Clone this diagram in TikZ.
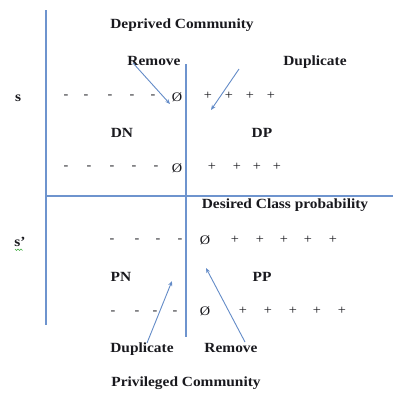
\documentclass[tikz,border=0pt]{standalone}
\usepackage{fontspec}
\setmainfont{Liberation Serif}[FakeStretch=1.1]
\usetikzlibrary{arrows.meta}
\definecolor{lineblue}{RGB}{110,148,206}
\definecolor{arrblue}{RGB}{100,140,200}
\definecolor{txt}{RGB}{25,25,30}
\definecolor{spellgreen}{RGB}{60,170,60}
\tikzset{
  ln/.style={draw=lineblue, line width=1.2pt},
  arr/.style={draw=arrblue, line width=0.9pt, -{Stealth[length=5pt,width=4pt]}},
  lbl/.style={font=\fontsize{14}{16}\selectfont\bfseries, text=txt, anchor=base, inner sep=0pt},
  sym/.style={font=\fontsize{13}{15}\selectfont, text=txt, anchor=center, inner sep=0pt},
}
\begin{document}
\begin{tikzpicture}[x=1pt,y=-1pt]
\useasboundingbox[fill=white] (0,0) rectangle (394,392);
% axes
\coordinate (vlT) at (46,10);  \coordinate (vlB) at (46,325);
\coordinate (vmT) at (186,64); \coordinate (vmB) at (186,337);
\coordinate (hL) at (46,196);  \coordinate (hR) at (393,196);
\draw[ln] (vlT) -- (vlB);
\draw[ln] (vmT) -- (vmB);
\draw[ln] (hL) -- (hR);
% labels
\node[lbl] (dc) at (182,28) {Deprived Community};
\node[lbl] (rmT) at (154,65) {Remove};
\node[lbl] (dupT) at (315,65) {Duplicate};
\node[lbl] (dn) at (122,137) {DN};
\node[lbl] (dp) at (262,137) {DP};
\node[lbl] (dcp) at (285,208) {Desired Class probability};
\node[lbl] (pn) at (121,281) {PN};
\node[lbl] (pp) at (262,281) {PP};
\node[lbl] (dupB) at (142,352) {Duplicate};
\node[lbl] (rmB) at (231,352) {Remove};
\node[lbl] (pc) at (186,386) {Privileged Community};
\node[lbl] (s1) at (18,101) {s};
\node[lbl] (s2) at (20,246) {s’};
\draw[spellgreen, line width=0.6pt] (15,249) -- (16.5,250.5) -- (18,249) -- (19.5,250.5) -- (21,249) -- (22.5,250.5);
% row 1
\foreach \x [count=\i] in {66,86,110,132,153} \node[sym] (ra\i) at (\x,97) {-};
\node[sym] (oa) at (177,97) {Ø};
\foreach \x [count=\i] in {208,229,250,271} \node[sym] (pa\i) at (\x,96) {+};
% row 2
\foreach \x [count=\i] in {66,89,112,134,156} \node[sym] (rb\i) at (\x,168) {-};
\node[sym] (ob) at (177,168) {Ø};
\foreach \x [count=\i] in {212,237,257,277} \node[sym] (pb\i) at (\x,167) {+};
% row 3
\foreach \x [count=\i] in {112,137,158,180} \node[sym] (rc\i) at (\x,241) {-};
\node[sym] (oc) at (205,240) {Ø};
\foreach \x [count=\i] in {235,260,284,308,333} \node[sym] (pc\i) at (\x,240) {+};
% row 4
\foreach \x [count=\i] in {113,137,155,175} \node[sym] (rd\i) at (\x,313) {-};
\node[sym] (od) at (205,311) {Ø};
\foreach \x [count=\i] in {243,268,293,317,342} \node[sym] (pd\i) at (\x,311) {+};
% arrows
\coordinate (a1s) at (133,63);  \coordinate (a1e) at (170,104);
\coordinate (a2s) at (239,69);  \coordinate (a2e) at (211,110);
\coordinate (a3s) at (147,343); \coordinate (a3e) at (172,281);
\coordinate (a4s) at (245,342); \coordinate (a4e) at (206,268);
\draw[arr] (a1s) -- (a1e);
\draw[arr] (a2s) -- (a2e);
\draw[arr] (a3s) -- (a3e);
\draw[arr] (a4s) -- (a4e);
\end{tikzpicture}
\end{document}
